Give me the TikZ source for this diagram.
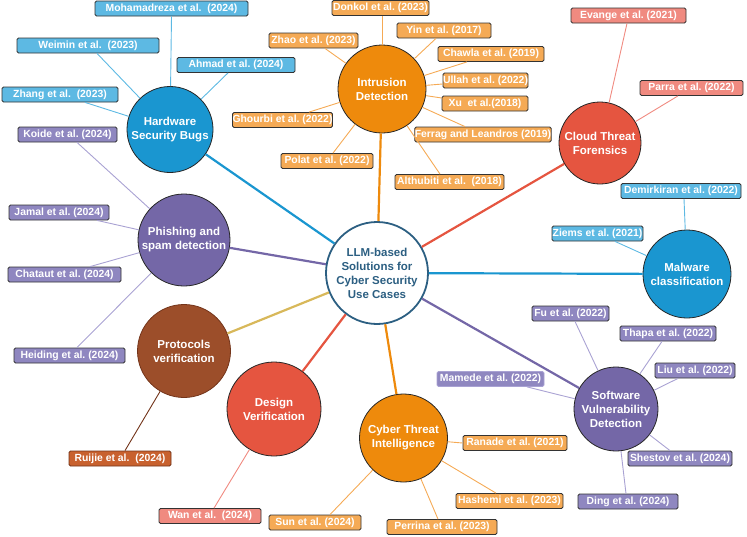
\documentclass[tikz,border=0pt]{standalone}
\usepackage{fontspec}
\setmainfont{Liberation Sans}
\definecolor{cblue}{HTML}{1A96D0}
\definecolor{lblue}{HTML}{5DB9E3}
\definecolor{corange}{HTML}{EE8A0C}
\definecolor{lorange}{HTML}{F5AA55}
\definecolor{cred}{HTML}{E55540}
\definecolor{lred}{HTML}{F08A80}
\definecolor{cpurple}{HTML}{7467A7}
\definecolor{lpurple}{HTML}{8F87C0}
\definecolor{lpline}{HTML}{A9A2D3}
\definecolor{cbrown}{HTML}{9C4E2A}
\definecolor{lbrown}{HTML}{C8612E}
\definecolor{dbrown}{HTML}{73341A}
\definecolor{cgold}{HTML}{D8B85A}
\definecolor{cslate}{HTML}{2C5F82}
\tikzset{
  topic/.style={circle, draw=black!85, line width=0.8pt, inner sep=0pt, align=center, text=white, font=\fontsize{11.5}{14}\selectfont\bfseries},
  lab/.style={draw=black!80, line width=0.8pt, rounded corners=1.5pt, minimum height=15pt, inner sep=0pt, text=white, font=\fontsize{10.4}{12}\selectfont\bfseries\frenchspacing},
  mainline/.style={line width=2.2pt},
  subline/.style={line width=0.9pt}
}
\begin{document}
\begin{tikzpicture}[x=1pt,y=-1pt]
\useasboundingbox (0,0) rectangle (747,536);
% topic circles
\node[circle, draw=cslate, line width=1.8pt, fill=white, minimum size=102pt, inner sep=0pt, text=cslate, align=center, font=\fontsize{11.5}{14}\selectfont\bfseries] (c) at (377,273) {LLM-based\\Solutions for\\Cyber Security\\Use Cases};
\node[topic, fill=cblue, minimum size=86pt] (hw) at (170,129.5) {Hardware\\Security Bugs};
\node[topic, fill=corange, minimum size=88pt] (id) at (382,89) {Intrusion\\Detection};
\node[topic, fill=cred, minimum size=82pt] (cf) at (600,143) {Cloud Threat\\Forensics};
\node[topic, fill=cblue, minimum size=88pt] (mw) at (687,274) {Malware\\classification};
\node[topic, fill=cpurple, minimum size=84pt] (sv) at (616,409) {Software\\Vulnerability\\Detection};
\node[topic, fill=corange, minimum size=88pt] (ct) at (403.5,438) {Cyber Threat\\Intelligence};
\node[topic, fill=cred, minimum size=94pt] (dv) at (274,409) {Design\\Verification};
\node[topic, fill=cbrown, draw=dbrown, minimum size=93pt] (pv) at (184,351) {Protocols\\verification};
\node[topic, fill=cpurple, minimum size=92pt] (ps) at (184,240) {Phishing and\\spam detection};
% main connectors
\draw[mainline, cblue] (c) -- (hw);
\draw[mainline, corange] (c) -- (id);
\draw[mainline, cred] (c) -- (cf);
\draw[mainline, cblue] (c) -- (mw);
\draw[mainline, cpurple] (c) -- (sv);
\draw[mainline, corange] (c) -- (ct);
\draw[mainline, cred] (c) -- (dv);
\draw[mainline, cgold] (c) -- (pv);
\draw[mainline, cpurple] (c) -- (ps);
% Hardware labels
\node[lab, fill=lblue, minimum width=153pt] (hw1) at (171.5,8.5) {Mohamadreza et al.\ \ (2024)};
\node[lab, fill=lblue, minimum width=142pt] (hw2) at (88,45.5) {Weimin et al.\ \ (2023)};
\node[lab, fill=lblue, minimum width=118pt] (hw3) at (236,65) {Ahmad et al. (2024)};
\node[lab, fill=lblue, minimum width=116pt] (hw4) at (60,94.5) {Zhang et al.\ \ (2023)};
\draw[subline, lblue] (hw1.south) -- (hw);
\draw[subline, lblue] ([xshift=9pt]hw2.south) -- (hw);
\draw[subline, lblue] ([xshift=-8pt]hw3.south) -- (hw);
\draw[subline, lblue] ([xshift=25pt]hw4.south) -- (hw);
% Intrusion labels
\node[lab, fill=lorange, minimum width=97pt] (id1) at (380.5,8) {Donkol et al. (2023)};
\node[lab, fill=lorange, minimum width=94pt] (id2) at (444,30.5) {Yin et al. (2017)};
\node[lab, fill=lorange, minimum width=89pt] (id3) at (313.5,40.5) {Zhao et al. (2023)};
\node[lab, fill=lorange, minimum width=106pt] (id4) at (491,54) {Chawla et al. (2019)};
\node[lab, fill=lorange, minimum width=85pt] (id5) at (485.5,80.5) {Ullah et al. (2022)};
\node[lab, fill=lorange, minimum width=86pt] (id6) at (485,103.5) {Xu\ \ et al.(2018)};
\node[lab, fill=lorange, minimum width=99pt] (id7) at (282.5,120) {Ghourbi et al. (2022)};
\node[lab, fill=lorange, minimum width=134pt] (id8) at (483,134.5) {Ferrag and Leandros (2019)};
\node[lab, fill=lorange, minimum width=92pt] (id9) at (327,161) {Polat et al. (2022)};
\node[lab, fill=lorange, minimum width=109pt] (id10) at (449.5,182) {Althubiti et al.\ \ (2018)};
\draw[subline, lorange] ([xshift=1.5pt]id1.south) -- (id);
\draw[subline, lorange] ([xshift=-8pt]id2.south) -- (id);
\draw[subline, lorange] ([xshift=11.5pt]id3.south) -- (id);
\draw[subline, lorange] ([xshift=-24pt]id4.south) -- (id);
\draw[subline, lorange] ([yshift=-3.5pt]id5.west) -- (id);
\draw[subline, lorange] ([yshift=5.5pt]id6.west) -- (id);
\draw[subline, lorange] ([xshift=26.5pt]id7.north) -- (id);
\draw[subline, lorange] ([xshift=-18pt]id8.north) -- (id);
\draw[subline, lorange] ([xshift=6pt]id9.north) -- (id);
\draw[subline, lorange] ([xshift=-9.5pt]id10.north) -- (id);
% Cloud labels
\node[lab, fill=lred, minimum width=115pt] (cf1) at (628.5,15.5) {Evange et al. (2021)};
\node[lab, fill=lred, minimum width=103pt] (cf2) at (691.5,88) {Parra et al. (2022)};
\draw[subline, lred] ([xshift=-1.5pt]cf1.south) -- (cf);
\draw[subline, lred] ([xshift=-13.5pt]cf2.south) -- (cf);
% Malware labels
\node[lab, fill=lblue, minimum width=120pt] (mw1) at (681,191) {Demirkiran et al. (2022)};
\node[lab, fill=lblue, minimum width=91pt] (mw2) at (597.5,233.5) {Ziems et al. (2021)};
\draw[subline, lblue] ([xshift=3pt]mw1.south) -- (mw);
\draw[subline, lblue] ([xshift=17.5pt]mw2.south) -- (mw);
% Software labels
\node[lab, fill=lpurple, minimum width=77pt] (sv1) at (570.5,313.5) {Fu et al. (2022)};
\node[lab, fill=lpurple, minimum width=96pt] (sv2) at (668,333.5) {Thapa et al. (2022)};
\node[lab, fill=lpurple, minimum width=80pt] (sv3) at (695,370.5) {Liu et al. (2022)};
\node[lab, fill=lpurple, draw=lpline, minimum width=107pt] (sv4) at (490.5,379) {Mamede et al. (2022)};
\node[lab, fill=lpurple, minimum width=104pt] (sv5) at (680,458.5) {Shestov et al. (2024)};
\node[lab, fill=lpurple, minimum width=100pt] (sv6) at (628,501.5) {Ding et al. (2024)};
\draw[subline, lpline] ([xshift=4.5pt]sv1.south) -- (sv);
\draw[subline, lpline] ([xshift=-6pt]sv2.south) -- (sv);
\draw[subline, lpline] ([xshift=-17pt]sv3.south) -- (sv);
\draw[subline, lpline] ([xshift=36.5pt]sv4.south) -- (sv);
\draw[subline, lpline] ([xshift=-10pt]sv5.north) -- (sv);
\draw[subline, lpline] ([xshift=-2pt]sv6.north) -- (sv);
% Cyber Threat Intelligence labels
\node[lab, fill=lorange, minimum width=104pt] (ct1) at (515,443) {Ranade et al. (2021)};
\node[lab, fill=lorange, minimum width=107pt] (ct2) at (509.5,501) {Hashemi et al. (2023)};
\node[lab, fill=lorange, minimum width=110pt] (ct3) at (442,527) {Perrina et al. (2023)};
\node[lab, fill=lorange, minimum width=92pt] (ct4) at (315,522.5) {Sun et al. (2024)};
\draw[subline, lorange] (ct1.west) -- (ct);
\draw[subline, lorange] ([xshift=-13.5pt]ct2.north) -- (ct);
\draw[subline, lorange] ([xshift=-4pt]ct3.north) -- (ct);
\draw[subline, lorange] ([xshift=15pt]ct4.north) -- (ct);
% Design verification label
\node[lab, fill=lred, minimum width=102pt] (dv1) at (210,516) {Wan et al.\ \ (2024)};
\draw[subline, lred] ([xshift=4pt]dv1.north) -- (dv);
% Protocols verification label
\node[lab, fill=lbrown, draw=dbrown, minimum width=102pt] (pv1) at (120,458.5) {Ruijie et al.\ \ (2024)};
\draw[subline, dbrown] ([xshift=5pt]pv1.north) -- (pv);
% Phishing labels
\node[lab, fill=lpurple, minimum width=99pt] (ps1) at (67.5,134.5) {Koide et al. (2024)};
\node[lab, fill=lpurple, minimum width=100pt] (ps2) at (59,212.5) {Jamal et al. (2024)};
\node[lab, fill=lpurple, minimum width=113pt] (ps3) at (64.5,274.5) {Chataut et al. (2024)};
\node[lab, fill=lpurple, minimum width=111pt] (ps4) at (69.5,355.5) {Heiding et al. (2024)};
\draw[subline, lpline] ([xshift=9.5pt]ps1.south) -- (ps);
\draw[subline, lpline] ([xshift=38pt]ps2.south) -- (ps);
\draw[subline, lpline] ([xshift=25.5pt]ps3.north) -- (ps);
\draw[subline, lpline] ([xshift=7.5pt]ps4.north) -- (ps);
\end{tikzpicture}
\end{document}
